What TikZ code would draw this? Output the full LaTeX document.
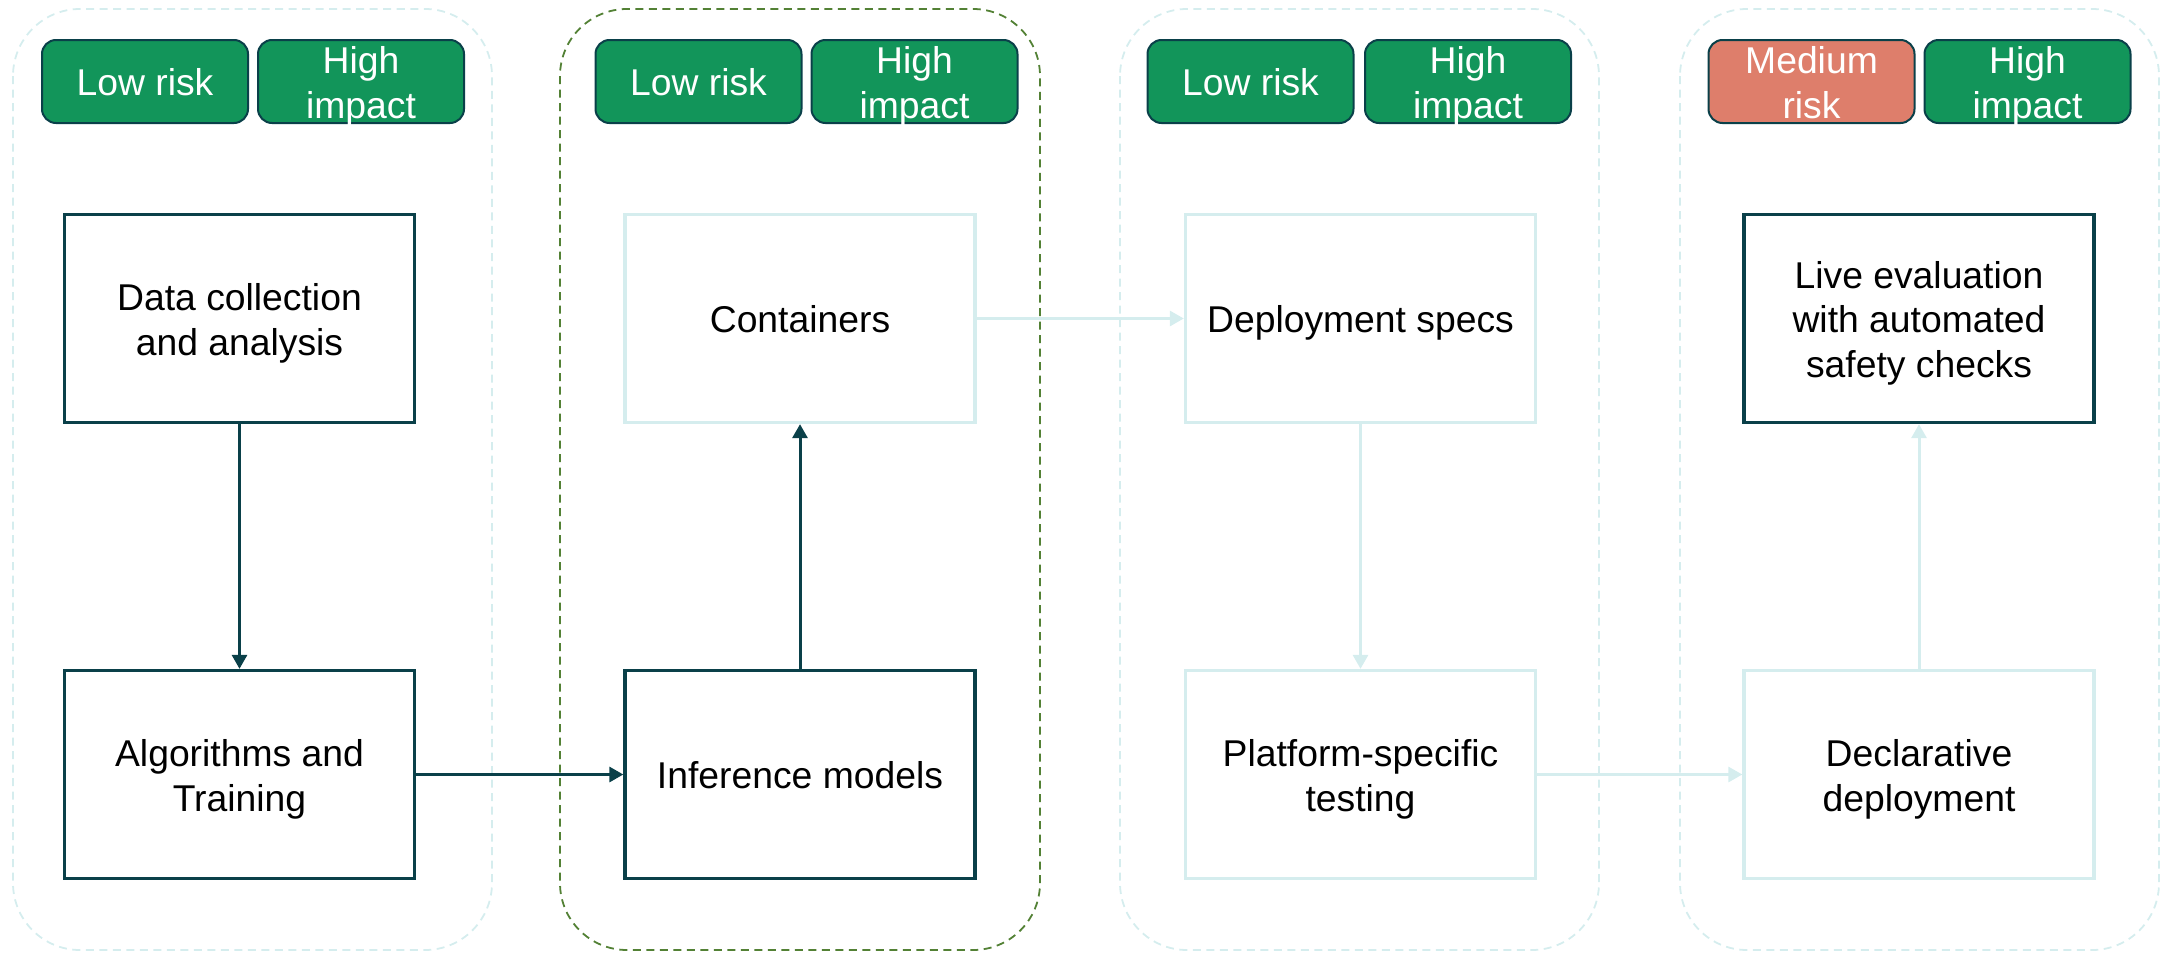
\documentclass[tikz,border=0pt]{standalone}
\usepackage{fontspec}
\setmainfont{Liberation Sans}
\usetikzlibrary{arrows.meta}

\definecolor{deepteal}{HTML}{0A4049}
\definecolor{paleteal}{HTML}{D5EDEE}
\definecolor{badgegreen}{HTML}{12955A}
\definecolor{badgesalmon}{HTML}{DE7E6B}
\definecolor{groupgreen}{HTML}{538135}

% fixed line box: 36.5pt above the baseline, 8pt below (= line spacing)
\newcommand{\ls}{\rule[-8pt]{0pt}{44.5pt}}

\tikzset{
  labelfont/.style={font=\fontsize{37.3}{44.5}\selectfont},
  stage/.style={draw=paleteal, line width=1.8pt, dash pattern=on 8pt off 5.5pt,
                rounded corners=67pt},
  stagefocus/.style={stage, draw=groupgreen},
  badge/.style={draw=deepteal, line width=2pt, rounded corners=14pt,
                minimum width=206pt, minimum height=83pt,
                inner xsep=0pt, inner ysep=-3.5pt,
                text=white, align=center, labelfont},
  lowbadge/.style={badge, fill=badgegreen},
  medbadge/.style={badge, fill=badgesalmon},
  stepbox/.style={fill=white, line width=3.3pt, minimum width=350pt,
                  minimum height=208pt, inner sep=0pt, align=center,
                  text=black, labelfont},
  darkbox/.style={stepbox, draw=deepteal},
  palebox/.style={stepbox, draw=paleteal},
  darkflow/.style={draw=deepteal, line width=3pt,
                   -{Triangle[length=14pt,width=15pt]}},
  paleflow/.style={draw=paleteal, line width=3pt,
                   -{Triangle[length=14pt,width=15pt]}},
}

\begin{document}
\begin{tikzpicture}[x=1pt, y=-1pt]
  \useasboundingbox (0,0) rectangle (2165,953);

  % stage frames
  \draw[stage]      (13,9)   rectangle (492,950);
  \draw[stagefocus] (560,9)  rectangle (1040,950);
  \draw[stage]      (1120,9) rectangle (1599,950);
  \draw[stage]      (1680,9) rectangle (2159,950);

  % risk / impact badges
  \node[lowbadge] (r1) at (145,81.5)    {\ls Low risk};
  \node[lowbadge] (i1) at (361,81.5)    {\ls High\\\ls impact};
  \node[lowbadge] (r2) at (698.5,81.5)  {\ls Low risk};
  \node[lowbadge] (i2) at (914.5,81.5)  {\ls High\\\ls impact};
  \node[lowbadge] (r3) at (1250.5,81.5) {\ls Low risk};
  \node[lowbadge] (i3) at (1468,81.5)   {\ls High\\\ls impact};
  \node[medbadge] (r4) at (1811.5,81.5) {\ls Medium\\\ls risk};
  \node[lowbadge] (i4) at (2027.5,81.5) {\ls High\\\ls impact};

  % process steps
  \node[darkbox] (data)  at (239.5,318.5)  {\ls Data collection\\\ls and analysis};
  \node[darkbox] (algo)  at (239.5,774.5)  {\ls Algorithms and\\\ls Training};
  \node[palebox] (cont)  at (800,318.5)    {\ls Containers};
  \node[darkbox] (infer) at (800,774.5)    {\ls Inference models};
  \node[palebox] (spec)  at (1360.5,318.5) {\ls Deployment specs};
  \node[palebox] (plat)  at (1360.5,774.5) {\ls Platform-specific\\\ls testing};
  \node[darkbox] (live)  at (1919,318.5)
        {\ls Live evaluation\\\ls with automated\\\ls safety checks};
  \node[palebox] (decl)  at (1919,774.5)   {\ls Declarative\\\ls deployment};

  % connectors
  \draw[darkflow] (data.south)  -- (algo.north);
  \draw[darkflow] (algo.east)   -- (infer.west);
  \draw[darkflow] (infer.north) -- (cont.south);
  \draw[paleflow] (cont.east)   -- (spec.west);
  \draw[paleflow] (spec.south)  -- (plat.north);
  \draw[paleflow] (plat.east)   -- (decl.west);
  \draw[paleflow] (decl.north)  -- (live.south);
\end{tikzpicture}
\end{document}
